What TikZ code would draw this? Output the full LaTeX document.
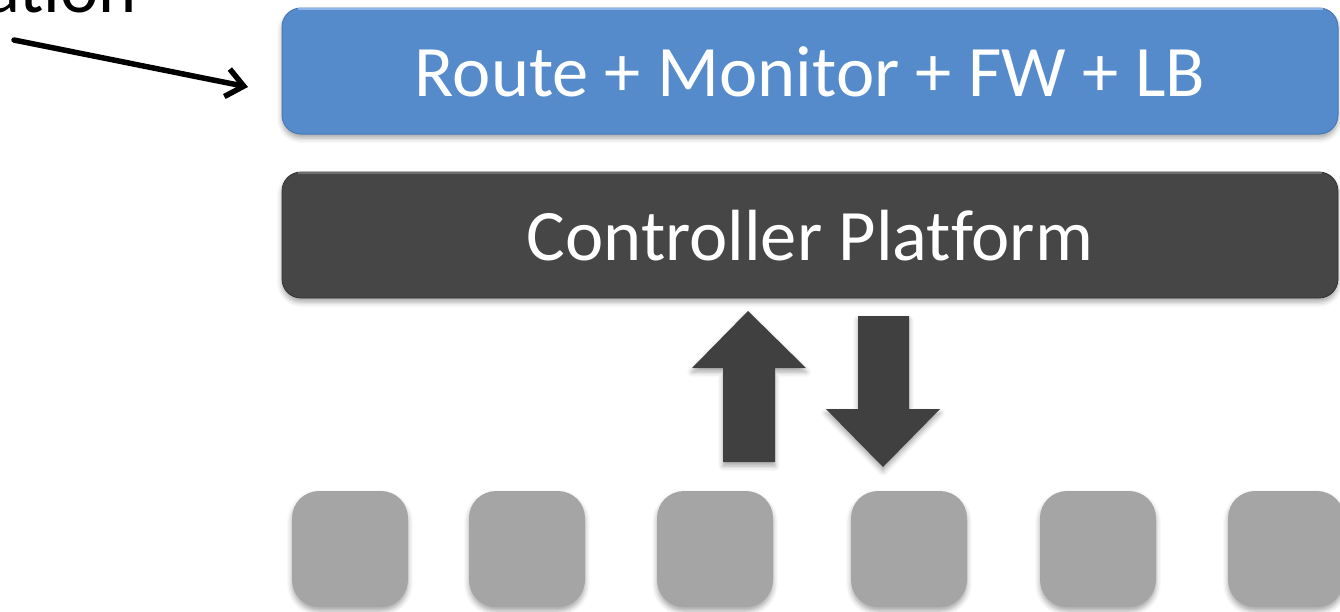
\documentclass[tikz,border=0pt]{standalone}
\usepackage{fontspec}
\setmainfont{Carlito}[Ligatures=CommonOff]
\usetikzlibrary{arrows.meta,shadows.blur}

\definecolor{layerblue}{RGB}{86,139,203}
\definecolor{layerblueedge}{RGB}{74,121,182}
\definecolor{layerbluehi}{RGB}{140,180,228}
\definecolor{platformgray}{RGB}{70,70,70}
\definecolor{platformhi}{RGB}{110,110,110}
\definecolor{arrowgray}{RGB}{64,64,64}
\definecolor{switchgray}{RGB}{165,165,165}

\tikzset{
  softshadow/.style={blur shadow={shadow xshift=0pt, shadow yshift=-4pt,
      shadow blur radius=5pt, shadow opacity=35}},
  layerbox/.style={rectangle, rounded corners=19pt, minimum width=1056pt,
      minimum height=126pt, inner sep=0pt, text=white,
      text height=50pt, text depth=0pt,
      font=\fontsize{72.5}{84}\selectfont, softshadow},
  switchbox/.style={rectangle, rounded corners=27pt, minimum width=116pt,
      minimum height=116pt, inner sep=0pt, fill=switchgray, softshadow},
  blockarrow/.style={fill=arrowgray, softshadow},
  pointer/.style={draw=black, line width=5.5pt, line cap=round,
      -{Straight Barb[length=17pt,width=28pt,line width=5.5pt]}},
  caption/.style={font=\fontsize{72.5}{84}\selectfont, text=black, inner sep=0pt}
}

\begin{document}
\begin{tikzpicture}[x=1pt,y=-1pt]
\useasboundingbox (0,0) rectangle (1340,611);

% label running off the top edge, with its pointer
\node[caption, anchor=base east] (lbl) at (137,12) {ation};
\coordinate (ptrA) at (14,40);
\coordinate (ptrB) at (248,87);
\draw[pointer] (ptrA) -- (ptrB);

% application layer
\node[layerbox, fill=layerblue, draw=layerblueedge, line width=1pt] (app) at (810,71)
  {Route + Monitor + FW + LB};
\draw[layerbluehi, line width=1.5pt]
  ([xshift=16pt,yshift=-1.5pt]app.north west) -- ([xshift=-16pt,yshift=-1.5pt]app.north east);

% controller platform
\node[layerbox, fill=platformgray, draw=black!80, line width=0.8pt] (ctl) at (810,235)
  {Controller Platform};
\draw[platformhi, line width=1.5pt]
  ([xshift=16pt,yshift=-1.5pt]ctl.north west) -- ([xshift=-16pt,yshift=-1.5pt]ctl.north east);

% up and down block arrows
\fill[blockarrow] (723,462) -- (723,368) -- (692,368) -- (748,311)
  -- (806,368) -- (775,368) -- (775,462) -- cycle;
\fill[blockarrow] (858,316) -- (909,316) -- (909,409) -- (940,409)
  -- (883,467) -- (826,409) -- (858,409) -- cycle;

% switches
\node[switchbox] (sw1) at (350,549) {};
\node[switchbox] (sw2) at (527,549) {};
\node[switchbox] (sw3) at (715,549) {};
\node[switchbox] (sw4) at (909,549) {};
\node[switchbox] (sw5) at (1098,549) {};
\node[switchbox] (sw6) at (1286,549) {};
\end{tikzpicture}
\end{document}
